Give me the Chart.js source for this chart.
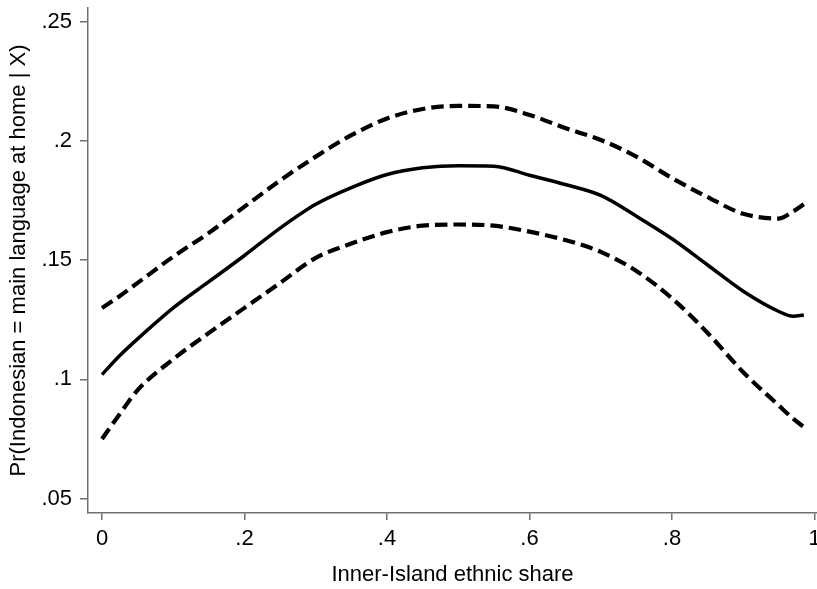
<!DOCTYPE html>
<html>
<head>
<meta charset="utf-8">
<script src="https://cdn.jsdelivr.net/npm/chart.js@4.4.1/dist/chart.umd.min.js"></script>
<style>
  html, body { margin: 0; padding: 0; background: #ffffff; }
  canvas { display: block; }
</style>
</head>
<body>
<canvas id="chart" width="817" height="589"></canvas>
<script>
// Inner-Island ethnic share (x) and predicted probability with 95% band
const share = [0, 0.025, 0.05, 0.10, 0.15, 0.20, 0.25, 0.30, 0.35, 0.40, 0.45, 0.50,
               0.55, 0.60, 0.65, 0.70, 0.75, 0.80, 0.85, 0.90, 0.95, 0.97, 0.985];
const fitted = [0.102, 0.110, 0.117, 0.130, 0.141, 0.152, 0.1635, 0.1735, 0.1805, 0.186, 0.1888, 0.1897,
                0.1895, 0.1857, 0.1818, 0.1772, 0.1685, 0.159, 0.148, 0.137, 0.1285, 0.1265, 0.127];
const upperCI = [0.130, 0.135, 0.1405, 0.1515, 0.1615, 0.1725, 0.1835, 0.1935, 0.2025, 0.2095, 0.2135, 0.2148,
                 0.2146, 0.211, 0.2055, 0.2005, 0.1935, 0.1845, 0.1765, 0.1695, 0.1675, 0.1705, 0.1735];
const lowerCI = [0.075, 0.0855, 0.0955, 0.1085, 0.1195, 0.130, 0.1405, 0.151, 0.157, 0.1618, 0.1645, 0.165,
                 0.1645, 0.162, 0.1585, 0.1535, 0.1455, 0.134, 0.1195, 0.103, 0.089, 0.0835, 0.080];

const xTickValues = [0, 0.2, 0.4, 0.6, 0.8, 1];
const xTickLabels = ['0', '.2', '.4', '.6', '.8', '1'];
const yTickValues = [0.05, 0.10, 0.15, 0.20, 0.25];
const yTickLabels = ['.05', '.1', '.15', '.2', '.25'];

const toPoints = ys => share.map((x, i) => ({ x: x, y: ys[i] }));

const font = { family: '"Liberation Sans", Arial, sans-serif', size: 22, lineHeight: 1.2 };
const axisGrey = '#707070';

new Chart(document.getElementById('chart'), {
  type: 'line',
  data: {
    datasets: [
      { data: toPoints(upperCI), borderColor: '#000', borderWidth: 4.2,
        borderDash: [12.5, 6], borderCapStyle: 'butt', pointRadius: 0,
        cubicInterpolationMode: 'monotone', fill: false },
      { data: toPoints(fitted), borderColor: '#000', borderWidth: 3.5,
        pointRadius: 0, cubicInterpolationMode: 'monotone', fill: false },
      { data: toPoints(lowerCI), borderColor: '#000', borderWidth: 4.2,
        borderDash: [12.5, 6], borderCapStyle: 'butt', pointRadius: 0,
        cubicInterpolationMode: 'monotone', fill: false }
    ]
  },
  options: {
    responsive: false,
    devicePixelRatio: 1,
    animation: false,
    layout: { padding: { top: 8, right: 0, bottom: 0, left: 0 } },
    plugins: { legend: { display: false }, tooltip: { enabled: false } },
    scales: {
      x: {
        type: 'linear',
        min: -0.01965,
        max: 1.0035,
        afterBuildTicks: s => { s.ticks = xTickValues.map(v => ({ value: v })); },
        afterFit: s => { s.height = 76; s.paddingLeft = 0; s.paddingRight = 0; },
        ticks: {
          color: '#000', font: font, padding: 5.8, maxRotation: 0, autoSkip: false,
          callback: (v, i) => xTickLabels[i]
        },
        grid: { drawOnChartArea: false, drawTicks: true, tickLength: 7,
                color: axisGrey, lineWidth: 1.5 },
        border: { display: true, color: axisGrey, width: 1.5 },
        title: { display: true, text: 'Inner-Island ethnic share', color: '#000',
                 font: font, padding: { top: 0, bottom: 1.3 } }
      },
      y: {
        type: 'linear',
        min: 0.04391,
        max: 0.25588,
        afterBuildTicks: s => { s.ticks = yTickValues.map(v => ({ value: v })); },
        afterFit: s => { s.width = 88; s.paddingTop = 0; s.paddingBottom = 0; },
        ticks: {
          color: '#000', font: font, padding: 8, autoSkip: false,
          callback: (v, i) => yTickLabels[i]
        },
        grid: { drawOnChartArea: false, drawTicks: true, tickLength: 8,
                color: axisGrey, lineWidth: 1.5 },
        border: { display: true, color: axisGrey, width: 1.5 },
        title: { display: true, text: 'Pr(Indonesian = main language at home | X)',
                 color: '#000', font: font, padding: { top: 6, bottom: 0 } }
      }
    }
  }
});
</script>
</body>
</html>
